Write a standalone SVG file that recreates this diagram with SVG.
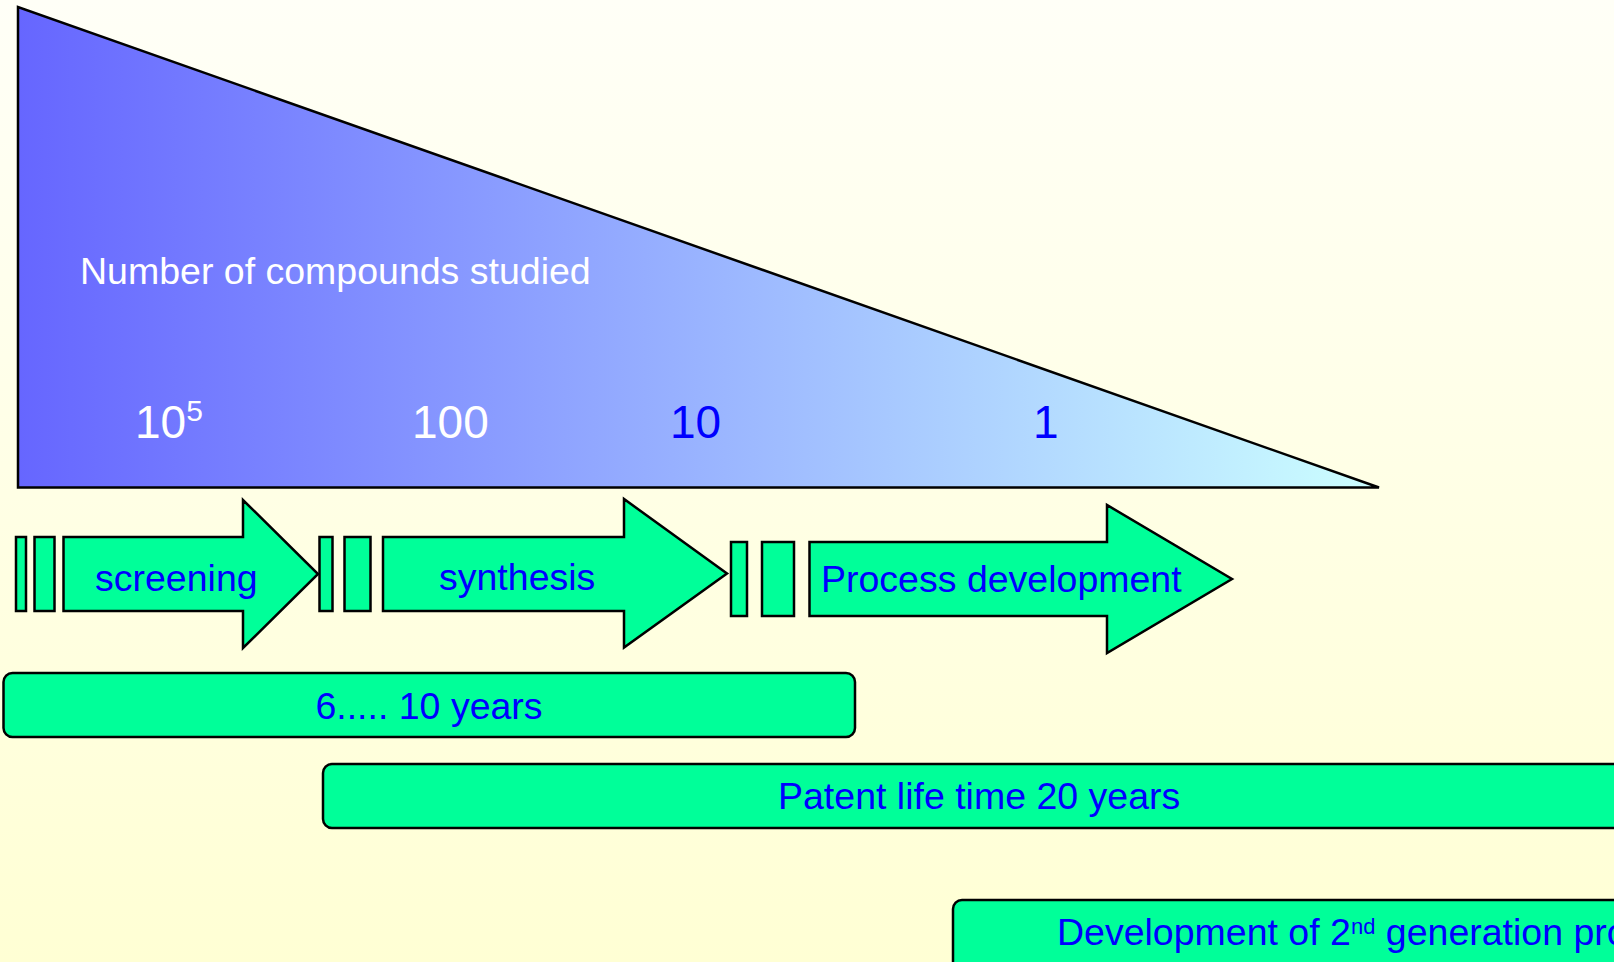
<svg xmlns="http://www.w3.org/2000/svg" width="1614" height="962" viewBox="0 0 1614 962">
<defs>
<linearGradient id="bg" x1="0" y1="0" x2="0" y2="1">
<stop offset="0" stop-color="#fffff7"/>
<stop offset="1" stop-color="#ffffd4"/>
</linearGradient>
<linearGradient id="tri" x1="18" y1="0" x2="1379" y2="0" gradientUnits="userSpaceOnUse">
<stop offset="0" stop-color="#6666ff"/>
<stop offset="0.5" stop-color="#99b3ff"/>
<stop offset="1" stop-color="#ccffff"/>
</linearGradient>
<style>
.shape{fill:#00ff99;stroke:#000;stroke-width:2.5;stroke-linejoin:miter}
.lbl{font-family:"Liberation Sans",Arial,sans-serif;font-size:37.5px;fill:#0000ff}
.num{font-family:"Liberation Sans",Arial,sans-serif;font-size:46px}
.w{fill:#ffffff}
.b{fill:#0000ff}
</style>
</defs>
<rect x="0" y="0" width="1614" height="962" fill="url(#bg)"/>
<g id="triangle">
<polygon points="18,7 18,487.5 1379,487.5" fill="url(#tri)" stroke="#000" stroke-width="2.5" stroke-linejoin="miter"/>
<text x="80" y="284" class="lbl w">Number of compounds studied</text>
<text x="135" y="438" class="num w">10<tspan font-size="30" dy="-17">5</tspan></text>
<text x="412" y="438" class="num w">100</text>
<text x="670" y="438" class="num b">10</text>
<text x="1033" y="438" class="num b">1</text>
</g>
<g id="screening">
<rect x="16" y="537" width="10" height="74" class="shape"/>
<rect x="34.5" y="537" width="20" height="74" class="shape"/>
<polygon points="63.5,537 243,537 243,500 318,574 243,648 243,611 63.5,611" class="shape"/>
<text x="95" y="591" class="lbl">screening</text>
</g>
<g id="synthesis">
<rect x="319.5" y="537" width="13" height="74" class="shape"/>
<rect x="344.5" y="537" width="26" height="74" class="shape"/>
<polygon points="383,537 624,537 624,499 727,573.5 624,647.5 624,611 383,611" class="shape"/>
<text x="439" y="590" class="lbl">synthesis</text>
</g>
<g id="process">
<rect x="731" y="542" width="16" height="74" class="shape"/>
<rect x="762" y="542" width="32" height="74" class="shape"/>
<polygon points="809.5,542 1107,542 1107,505 1232,579 1107,653 1107,616 809.5,616" class="shape"/>
<text x="821" y="592" class="lbl">Process development</text>
</g>
<g id="bar-years">
<rect x="3.5" y="673" width="851.5" height="64" rx="9" class="shape"/>
<text x="429" y="719" class="lbl" text-anchor="middle">6..... 10 years</text>
</g>
<g id="bar-patent">
<rect x="323" y="764" width="1320" height="64" rx="9" class="shape"/>
<text x="778" y="809" class="lbl">Patent life time 20 years</text>
</g>
<g id="bar-second">
<rect x="953" y="900" width="700" height="80" rx="9" class="shape"/>
<text x="1057" y="945" class="lbl">Development of 2<tspan font-size="22" dy="-11">nd</tspan><tspan dy="11"> generation pro</tspan></text>
</g>
<g id="connectors"></g>
</svg>
